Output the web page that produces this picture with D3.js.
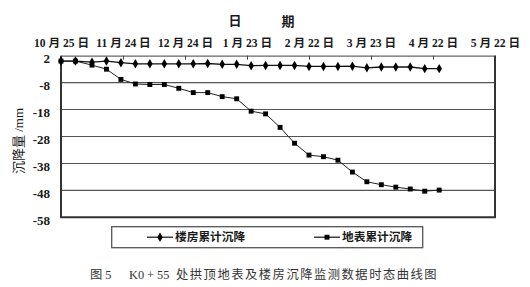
<!DOCTYPE html>
<html><head><meta charset="utf-8">
<script src="https://cdn.jsdelivr.net/npm/d3@7"></script>
<style>
html,body{margin:0;padding:0;background:#fff;}
svg{display:block;}
</style></head>
<body>
<svg id="chart" width="530" height="287"></svg>
<script>
// ---- data ----
const dates = ["2007-10-25","2007-11-01","2007-11-09","2007-11-16","2007-11-23","2007-11-30","2007-12-07","2007-12-14","2007-12-21","2007-12-28","2008-01-04","2008-01-11","2008-01-18","2008-01-25","2008-02-01","2008-02-08","2008-02-15","2008-02-22","2008-02-29","2008-03-07","2008-03-14","2008-03-21","2008-03-28","2008-04-04","2008-04-11","2008-04-18","2008-04-25"];
const buildingSettlement = [0,0,-0.4,0,-0.6,-1,-1,-1,-1,-1,-0.9,-1.2,-1.2,-1.7,-1.6,-1.6,-1.6,-2,-2,-2,-1.9,-2.5,-2.2,-2.2,-2.2,-2.8,-2.8];
const groundSettlement = [0,0,-1.5,-3,-6.8,-8.5,-8.7,-8.7,-10.1,-11.7,-11.7,-13.2,-14,-18.6,-19.6,-24.6,-30.5,-34.9,-35.5,-36.8,-41.2,-44.8,-45.9,-46.8,-47.5,-48.3,-47.9];
const tickDates = ["2007-10-25","2007-11-24","2007-12-24","2008-01-23","2008-02-22","2008-03-23","2008-04-22","2008-05-22"];
const tickLabels = ["10 月 25 日","11 月 24 日","12 月 24 日","1 月 23 日","2 月 22 日","3 月 23 日","4 月 22 日","5 月 22 日"];
const yTicks = [2,-8,-18,-28,-38,-48,-58];
const seriesNames = ["楼房累计沉降","地表累计沉降"];
const xTitle = ["日","期"];
const yTitle = "沉降量 /mm";
const captionParts = ["图 5","K0 + 55","处拱顶地表及楼房沉降监测数据时态曲线图"];

// ---- layout ----
const parse = d3.utcParse("%Y-%m-%d");
const L = 61, R = 495, T = 55.7, B = 217.3;
const x = d3.scaleUtc().domain([parse(tickDates[0]), parse(tickDates[tickDates.length-1])]).range([L, R]);
const y = d3.scaleLinear().domain([-58, 2]).range([B, T]);

const svg = d3.select("#chart");
const serif = "'Liberation Serif','Noto Sans CJK SC',serif";
const ink = "#1a1a1a";

// gridlines
svg.append("g").selectAll("line").data(yTicks.slice(1, -1)).join("line")
  .attr("x1", L).attr("x2", R).attr("y1", d => y(d)).attr("y2", d => y(d))
  .attr("stroke", "#555").attr("stroke-width", 1.1);

// top axis
const xAxis = d3.axisTop(x)
  .tickValues(tickDates.map(parse))
  .tickSize(-4).tickSizeOuter(0).tickPadding(10)
  .tickFormat((d, i) => tickLabels[i]);
const gx = svg.append("g").attr("transform", `translate(0,${T})`).call(xAxis);
gx.select(".domain").attr("stroke", "#666").attr("stroke-width", 1.2);
gx.selectAll(".tick line").attr("stroke", "#444").attr("stroke-width", 1);
gx.selectAll(".tick text").attr("font-family", serif).attr("font-size", 11.6)
  .attr("font-weight", "bold").attr("fill", ink).attr("dy", "0.1em");

// left axis
const yAxis = d3.axisLeft(y).tickValues(yTicks).tickSize(0).tickPadding(11).tickFormat(d => d);
const gy = svg.append("g").attr("transform", `translate(${L},0)`).call(yAxis);
gy.select(".domain").remove();
gy.selectAll(".tick text").attr("font-family", serif).attr("font-size", 13)
  .attr("font-weight", "bold").attr("fill", ink).attr("dy", "0.55em");

// frame (left, bottom, right)
svg.append("path").attr("d", `M${L},${T}V${B}H${R}V${T}`)
  .attr("fill", "none").attr("stroke", "#333").attr("stroke-width", 2);

// series
const line = d3.line().x((d, i) => x(parse(dates[i]))).y(d => y(d));
svg.append("path").datum(groundSettlement).attr("d", line)
  .attr("fill", "none").attr("stroke", "#222").attr("stroke-width", 1);
svg.append("path").datum(buildingSettlement).attr("d", line)
  .attr("fill", "none").attr("stroke", "#111").attr("stroke-width", 1.3);

const diamond = d3.symbol().type(d3.symbolDiamond).size(26);
const square = d3.symbol().type(d3.symbolSquare).size(24);
svg.append("g").selectAll("path").data(groundSettlement).join("path")
  .attr("d", square).attr("transform", (d, i) => `translate(${x(parse(dates[i]))},${y(d)})`)
  .attr("fill", "#000");
svg.append("g").selectAll("path").data(buildingSettlement).join("path")
  .attr("d", diamond).attr("transform", (d, i) => `translate(${x(parse(dates[i]))},${y(d)})`)
  .attr("fill", "#000");

// axis titles
svg.append("text").attr("x", 235).attr("y", 25).attr("text-anchor", "middle")
  .attr("font-family", serif).attr("font-size", 13).attr("font-weight", "bold").attr("fill", ink).text(xTitle[0]);
svg.append("text").attr("x", 288).attr("y", 26).attr("text-anchor", "middle")
  .attr("font-family", serif).attr("font-size", 13).attr("font-weight", "bold").attr("fill", ink).text(xTitle[1]);
svg.append("text").attr("transform", "translate(23,141) rotate(-90)").attr("text-anchor", "middle")
  .attr("font-family", serif).attr("font-size", 13).attr("fill", ink).text(yTitle);

// legend
svg.append("rect").attr("x", 111.7).attr("y", 226.7).attr("width", 311).attr("height", 21)
  .attr("fill", "#fff").attr("stroke", "#555").attr("stroke-width", 1.3);
const legItems = [
  {x0: 147, sym: diamond, name: seriesNames[0]},
  {x0: 314, sym: square, name: seriesNames[1]}
];
const lg = svg.append("g").selectAll("g").data(legItems).join("g")
  .attr("transform", d => `translate(${d.x0},237.2)`);
lg.append("line").attr("x1", 0).attr("x2", 26).attr("stroke", "#111").attr("stroke-width", 1.2);
lg.append("path").attr("d", d => d.sym()).attr("transform", "translate(13,0)").attr("fill", "#000");
lg.append("text").attr("x", 28).attr("dy", "0.36em").attr("font-family", serif)
  .attr("font-size", 11.7).attr("font-weight", "bold").attr("fill", ink).text(d => d.name);

// caption
const cap = svg.append("g").attr("font-family", serif).attr("font-size", 12.3).attr("fill", "#333");
cap.append("text").attr("x", 90).attr("y", 279).text(captionParts[0]);
cap.append("text").attr("x", 129).attr("y", 279).text(captionParts[1]);
cap.append("text").attr("x", 176).attr("y", 279).attr("letter-spacing", 1.5).text(captionParts[2]);
</script>
</body></html>
